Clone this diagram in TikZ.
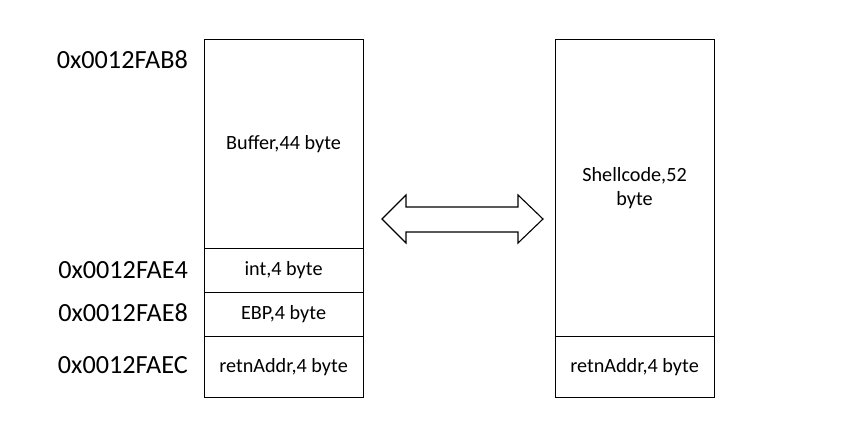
\documentclass[tikz,border=0pt]{standalone}
\usepackage{fontspec}
\setmainfont{Carlito}
\begin{document}
\begin{tikzpicture}[x=1pt,y=-1pt,
  cell/.style={draw=black,line width=1.1pt,fill=white,minimum width=159pt,inner sep=0pt,anchor=north west,align=center,font=\fontsize{20.2}{24}\selectfont},
  addr/.style={anchor=east,inner sep=0pt,font=\fontsize{26.2}{30}\selectfont}]
\useasboundingbox (0,0) rectangle (861,445);
% left stack
\node[cell,minimum height=209pt] (buf) at (203.5,39) {Buffer,44 byte};
\node[cell,minimum height=44pt] (int) at (203.5,248) {int,4 byte};
\node[cell,minimum height=44pt] (ebp) at (203.5,292) {EBP,4 byte};
\node[cell,minimum height=61pt] (ret) at (203.5,336) {retnAddr,4 byte};
% right stack
\node[cell,minimum height=297pt] (shell) at (554.5,39) {Shellcode,52\\byte};
\node[cell,minimum height=61pt] (ret2) at (554.5,336) {retnAddr,4 byte};
% addresses
\node[addr] (a1) at (188,60) {0x0012FAB8};
\node[addr] (a2) at (188,270) {0x0012FAE4};
\node[addr] (a3) at (188,313) {0x0012FAE8};
\node[addr] (a4) at (188,365) {0x0012FAEC};
% double arrow
\draw[line width=1.1pt,fill=white,line join=miter]
  (382,219) -- (406,195) -- (406,207) -- (518,207) -- (518,195) -- (543,219)
  -- (518,243) -- (518,232) -- (406,232) -- (406,243) -- cycle;
\end{tikzpicture}
\end{document}
